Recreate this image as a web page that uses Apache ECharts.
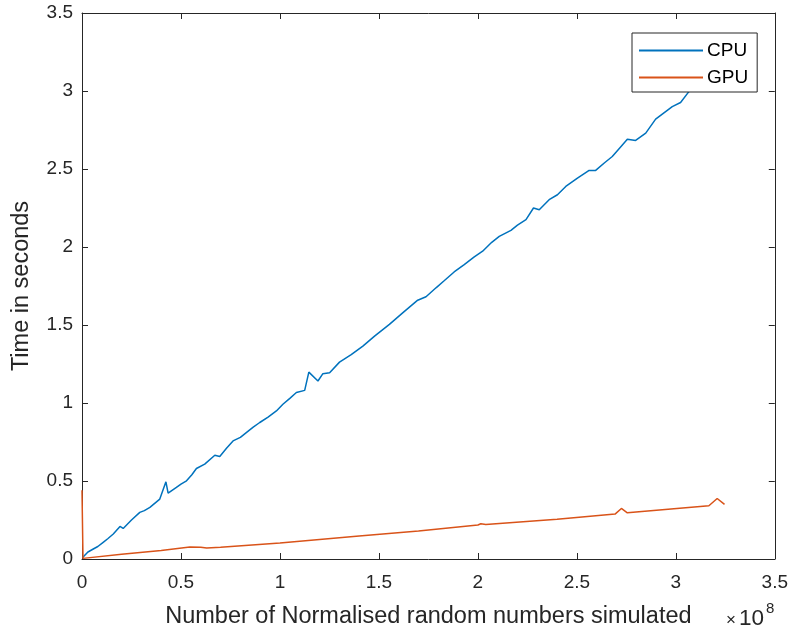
<!DOCTYPE html>
<html>
<head>
<meta charset="utf-8">
<script src="https://cdn.jsdelivr.net/npm/echarts@6/dist/echarts.min.js"></script>
<style>
html,body{margin:0;padding:0;background:#fff;}
#chart{width:791px;height:634px;}
</style>
</head>
<body>
<div id="chart"></div>
<script>
// x values are in units of 1e8 (axis shows "×10^8")
var seriesNames = ['CPU', 'GPU'];
var cpuX = [0.003, 0.03, 0.057, 0.08, 0.107, 0.13, 0.158, 0.192, 0.208, 0.25, 0.292, 0.315, 0.343, 0.393, 0.402, 0.424, 0.435, 0.477, 0.50, 0.528, 0.555, 0.578, 0.62, 0.671, 0.696, 0.73, 0.763, 0.80, 0.83, 0.865, 0.898, 0.94, 0.982, 1.015, 1.05, 1.083, 1.125, 1.146, 1.192, 1.217, 1.251, 1.301, 1.36, 1.419, 1.478, 1.553, 1.62, 1.696, 1.738, 1.79, 1.831, 1.88, 1.931, 1.98, 2.024, 2.07, 2.108, 2.167, 2.20, 2.243, 2.281, 2.31, 2.36, 2.402, 2.444, 2.503, 2.562, 2.595, 2.64, 2.679, 2.72, 2.755, 2.797, 2.848, 2.898, 2.94, 2.982, 3.024, 3.066, 3.15, 3.246];
var cpuY = [0.01, 0.045, 0.064, 0.08, 0.107, 0.13, 0.16, 0.209, 0.196, 0.25, 0.299, 0.31, 0.331, 0.384, 0.39, 0.495, 0.422, 0.459, 0.48, 0.501, 0.54, 0.58, 0.608, 0.665, 0.657, 0.71, 0.757, 0.78, 0.81, 0.845, 0.875, 0.91, 0.949, 0.992, 1.03, 1.067, 1.081, 1.198, 1.141, 1.188, 1.194, 1.262, 1.31, 1.365, 1.429, 1.504, 1.578, 1.659, 1.681, 1.74, 1.785, 1.84, 1.887, 1.935, 1.973, 2.03, 2.068, 2.107, 2.14, 2.175, 2.25, 2.239, 2.303, 2.335, 2.388, 2.442, 2.491, 2.491, 2.54, 2.58, 2.64, 2.691, 2.683, 2.73, 2.82, 2.86, 2.9, 2.926, 2.996, 3.09, 3.17];
var gpuX = [0, 0.005, 0.2, 0.4, 0.545, 0.6, 0.63, 0.7, 1.0, 1.4, 1.7, 2.0, 2.015, 2.04, 2.4, 2.693, 2.725, 2.755, 3.167, 3.209, 3.246];
var gpuY = [0.44, 0.004, 0.03, 0.055, 0.077, 0.075, 0.07, 0.076, 0.103, 0.147, 0.18, 0.218, 0.226, 0.221, 0.255, 0.288, 0.324, 0.296, 0.341, 0.388, 0.35];
var xTicks = {min: 0, max: 3.5, step: 0.5};
var yTicks = {min: 0, max: 3.5, step: 0.5};
var xTitle = 'Number of Normalised random numbers simulated';
var yTitle = 'Time in seconds';
var xExponent = '8';

function pairs(xs, ys) { return xs.map(function (x, i) { return [x, ys[i]]; }); }

var FONT = '"Liberation Sans", Arial, Helvetica, sans-serif';
var AXC = '#262626';

var chart = echarts.init(document.getElementById('chart'), null, {renderer: 'canvas'});

function axisBase(extra) {
  var a = {
    type: 'value',
    axisLine: {show: true, onZero: false, lineStyle: {color: AXC, width: 1}},
    axisTick: {show: true, inside: true, length: 6, lineStyle: {color: AXC, width: 1}},
    splitLine: {show: false},
    axisLabel: {color: AXC, fontSize: 19, fontFamily: FONT}
  };
  for (var k in extra) a[k] = extra[k];
  return a;
}

chart.setOption({
  animation: false,
  backgroundColor: '#fff',
  grid: {left: 82, right: 15, top: 13, bottom: 74, containLabel: false},
  xAxis: [
    axisBase({min: xTicks.min, max: xTicks.max, interval: xTicks.step, position: 'bottom',
      axisLabel: {color: AXC, fontSize: 19, fontFamily: FONT, margin: 14},
      name: xTitle, nameLocation: 'middle', nameGap: 46,
      nameTextStyle: {color: AXC, fontSize: 23.5, fontFamily: FONT}}),
    axisBase({min: xTicks.min, max: xTicks.max, interval: xTicks.step, position: 'top',
      axisLabel: {show: false}})
  ],
  yAxis: [
    axisBase({min: yTicks.min, max: yTicks.max, interval: yTicks.step, position: 'left',
      axisLabel: {color: AXC, fontSize: 19, fontFamily: FONT, margin: 9},
      name: yTitle, nameLocation: 'middle', nameGap: 48,
      nameTextStyle: {color: AXC, fontSize: 23.5, fontFamily: FONT}}),
    axisBase({min: yTicks.min, max: yTicks.max, interval: yTicks.step, position: 'right',
      axisLabel: {show: false}})
  ],
  legend: {
    left: 632, top: 33, orient: 'vertical',
    data: seriesNames,
    backgroundColor: '#fff',
    borderColor: AXC, borderWidth: 1, borderRadius: 0,
    padding: [8, 9, 5, 6],
    itemWidth: 64, itemHeight: 14, itemGap: 8,
    itemStyle: {opacity: 0},
    textStyle: {color: '#000', fontSize: 19, fontFamily: FONT, padding: [0, 0, 0, -1]}
  },
  series: [
    {name: seriesNames[0], type: 'line', data: pairs(cpuX, cpuY), symbol: 'none',
      xAxisIndex: 0, yAxisIndex: 0,
      lineStyle: {color: '#0072BD', width: 1.5}, itemStyle: {color: '#0072BD'}},
    {name: seriesNames[1], type: 'line', data: pairs(gpuX, gpuY), symbol: 'none',
      xAxisIndex: 0, yAxisIndex: 0,
      lineStyle: {color: '#D95319', width: 1.5}, itemStyle: {color: '#D95319'}}
  ],
  graphic: [
    {type: 'text', left: 726, top: 612, style: {text: '×', fill: AXC, font: '17px ' + FONT}},
    {type: 'text', left: 739, top: 607, style: {text: '10', fill: AXC, font: '22.5px ' + FONT}},
    {type: 'text', left: 766, top: 601, style: {text: xExponent, fill: AXC, font: '15px ' + FONT}}
  ]
});
</script>
</body>
</html>
